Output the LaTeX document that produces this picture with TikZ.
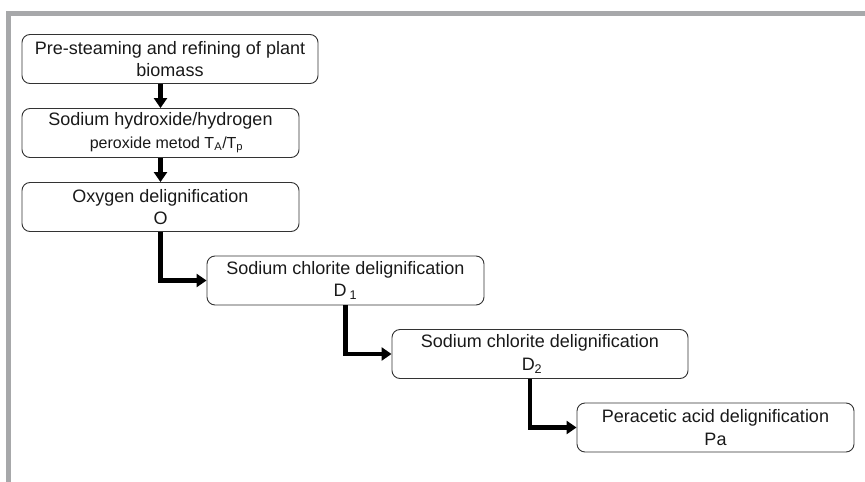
\documentclass[tikz,border=0pt]{standalone}
\usepackage{fontspec}
\setmainfont{Liberation Sans}
\usetikzlibrary{arrows.meta}
\definecolor{framegray}{RGB}{167,168,170}
\begin{document}
\begin{tikzpicture}[x=1pt,y=-1pt,
        stage/.style={draw=black!80, line width=0.9pt, rounded corners=8pt,
            minimum width=277pt, minimum height=49pt, inner sep=0pt,
            align=center, text=black!90, font=\fontsize{18}{22.5}\selectfont},
        flow/.style={line width=4.5pt, -{Triangle[width=13pt,length=10pt]}}]
        \useasboundingbox (0,0) rectangle (865,482);

        % grey frame
        \fill[framegray] (6,11) rectangle (865,16);
        \fill[framegray] (6,11) rectangle (11,482);

        \node[stage, minimum width=296pt] (pre) at (170,59) {Pre-steaming and refining of plant\\biomass};
        \node[stage] (naoh) at (160.5,133) {Sodium hydroxide/hydrogen\\\hspace*{12pt}{\fontsize{16}{20}\selectfont peroxide metod T\textsubscript{A}/T\textsubscript{p}}};
        \node[stage] (oxy) at (160.5,207) {Oxygen delignification\\O};
        \node[stage] (done) at (345.5,280.5) {Sodium chlorite delignification\\D\,\textsubscript{1}};
        \node[stage, minimum width=296pt] (dtwo) at (540,354) {Sodium chlorite delignification\\\hspace*{-16pt}D\textsubscript{2}};
        \node[stage] (pa) at (715.5,427.5) {Peracetic acid delignification\\Pa};

        \coordinate (dtwo out) at ([xshift=-10pt]dtwo.south);

        \draw[flow] (pre.south -| naoh.north) -- (naoh.north);
        \draw[flow] (naoh.south) -- (oxy.north);
        \draw[flow] (oxy.south) |- (done.west);
        \draw[flow] (done.south) |- (dtwo.west);
        \draw[flow] (dtwo out) |- (pa.west);

        \end{tikzpicture}
\end{document}
